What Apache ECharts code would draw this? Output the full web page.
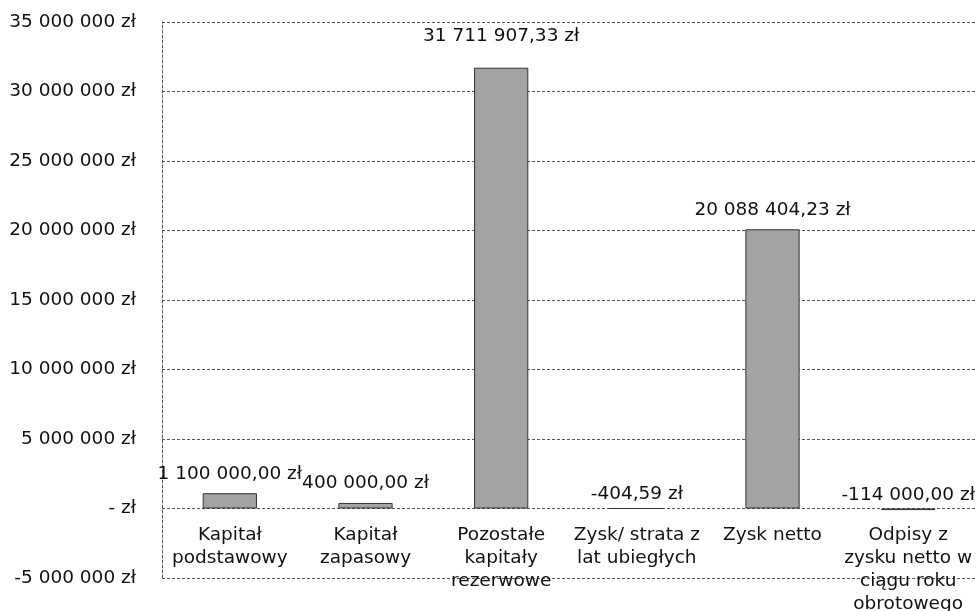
<!DOCTYPE html>
<html>
<head>
<meta charset="utf-8">
<script src="https://cdn.jsdelivr.net/npm/echarts@6/dist/echarts.min.js"></script>
<style>
html,body{margin:0;padding:0;background:#fff;}
#c{width:980px;height:611px;}
</style>
</head>
<body>
<div id="c"></div>
<script>
const categories = [
  'Kapitał\npodstawowy',
  'Kapitał\nzapasowy',
  'Pozostałe\nkapitały\nrezerwowe',
  'Zysk/ strata z\nlat ubiegłych',
  'Zysk netto',
  'Odpisy z\nzysku netto w\nciągu roku\nobrotowego'
];
const values = [1100000, 400000, 31711907.33, -404.59, 20088404.23, -114000];
const yMin = -5000000, yMax = 35000000, yStep = 5000000;

function groupDigits(intStr) {
  return intStr.replace(/\B(?=(\d{3})+(?!\d))/g, ' ');
}
function fmtMoney(v) {
  const neg = v < 0;
  const parts = Math.abs(v).toFixed(2).split('.');
  return (neg ? '-' : '') + groupDigits(parts[0]) + ',' + parts[1] + ' zł';
}
function fmtAxis(v) {
  if (v === 0) return '- zł';
  const neg = v < 0;
  return (neg ? '-' : '') + groupDigits(String(Math.abs(v))) + ' zł';
}

const FONT = 'DejaVu Sans';
const FS = 18.5;
const lineStyle = { color: '#555', width: 1, type: [3, 2] };

const chart = echarts.init(document.getElementById('c'), null, { renderer: 'canvas' });
chart.setOption({
  animation: false,
  backgroundColor: '#fff',
  grid: { left: 162, right: 4, top: 22, bottom: 33, containLabel: false, outerBoundsMode: 'none' },
  xAxis: {
    type: 'category',
    data: categories,
    position: 'bottom',
    axisLine: { show: false, onZero: false },
    axisTick: { show: false },
    axisLabel: {
      interval: 0, margin: -54, color: '#111',
      fontFamily: FONT, fontSize: FS, lineHeight: 23
    },
    splitLine: { show: false }
  },
  yAxis: {
    type: 'value',
    min: yMin, max: yMax, interval: yStep,
    axisLine: { show: true, lineStyle: lineStyle },
    axisTick: { show: false },
    axisLabel: {
      margin: 26, color: '#111', fontFamily: FONT, fontSize: FS,
      formatter: fmtAxis
    },
    splitLine: { show: true, lineStyle: lineStyle }
  },
  series: [{
    type: 'bar',
    barWidth: '40%',
    data: values.map((v, i) => ({
      value: v,
      label: { distance: v < 0 ? 4 : (i === 2 ? 22 : 10) }
    })),
    itemStyle: { color: '#a3a3a3', borderColor: '#333', borderWidth: 1 },
    label: {
      show: true, position: 'top', color: '#111',
      fontFamily: FONT, fontSize: FS,
      formatter: p => fmtMoney(p.value)
    }
  }]
});
</script>
</body>
</html>
